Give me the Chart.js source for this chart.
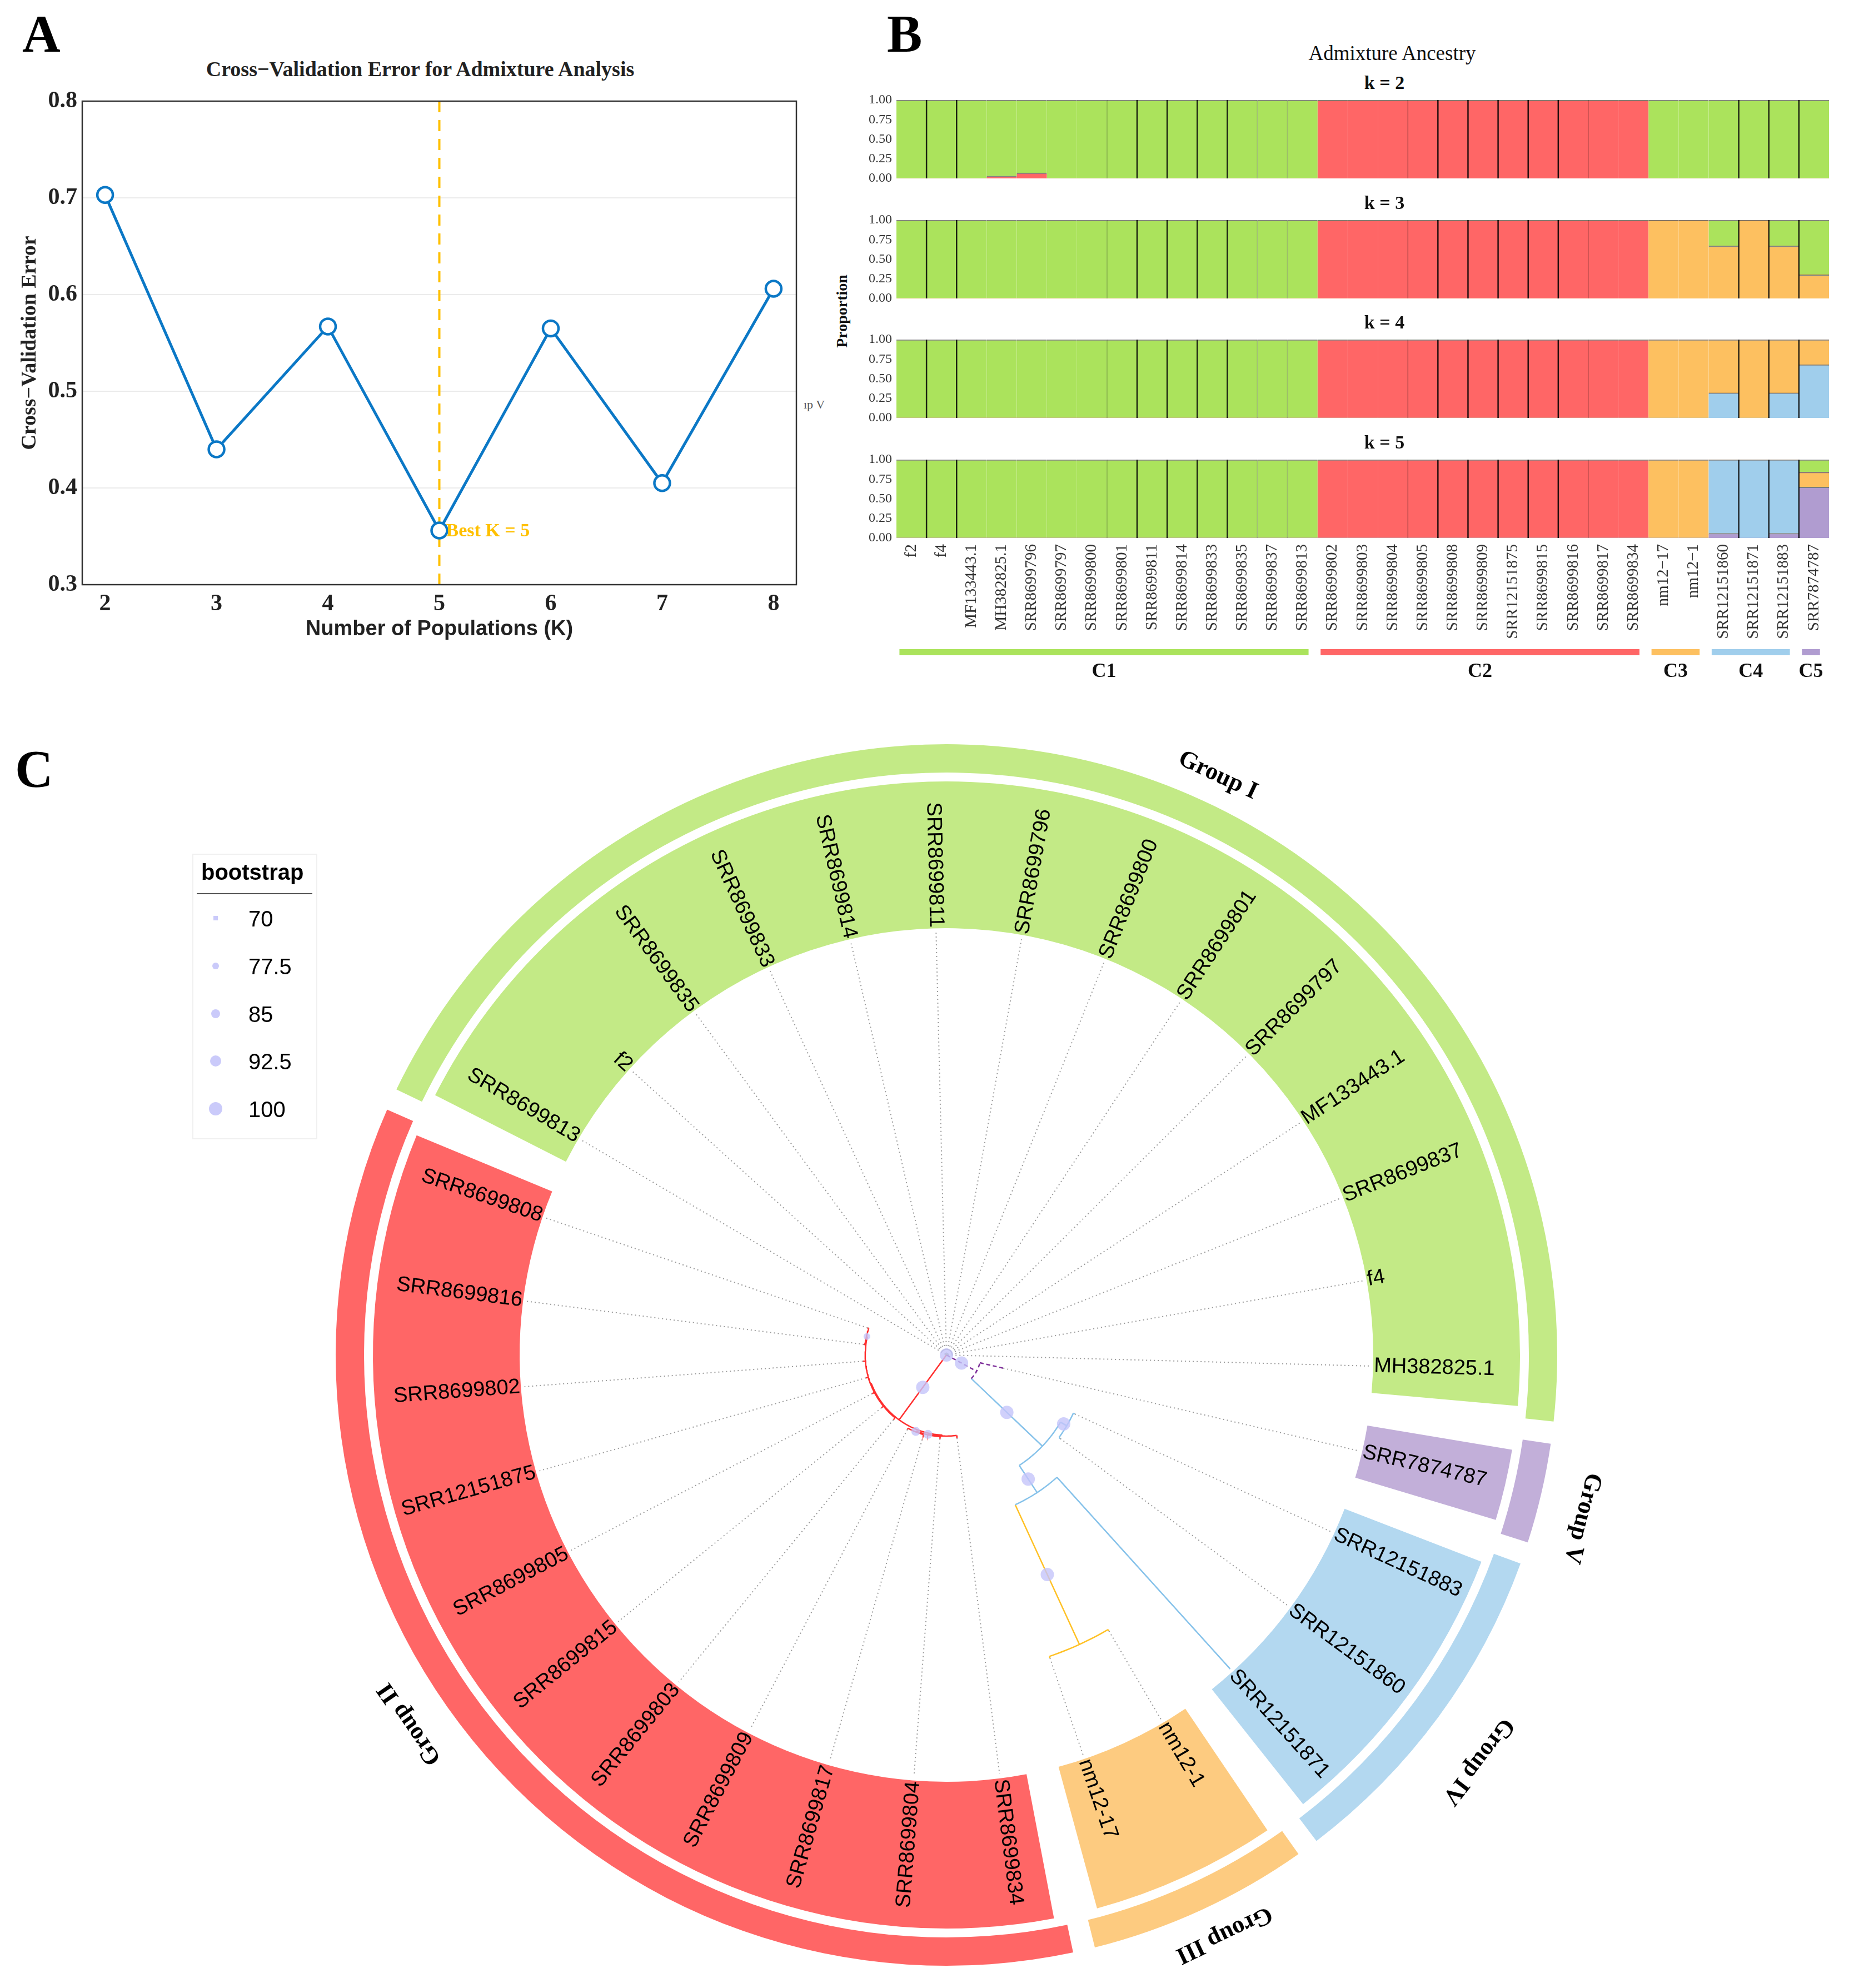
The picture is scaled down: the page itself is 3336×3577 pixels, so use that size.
<!DOCTYPE html>
<html><head><meta charset="utf-8">
<script src="https://cdn.jsdelivr.net/npm/chart.js@4.4.1/dist/chart.umd.min.js"></script>
<style>
html,body{margin:0;padding:0;background:#fff;}
body{width:3336px;height:3577px;position:relative;overflow:hidden;}
canvas{position:absolute;}
.t{position:absolute;white-space:nowrap;}
</style></head><body>
<script>
// ================= DATA =================
// Panel A
const kValues = [2, 3, 4, 5, 6, 7, 8];
const cvError = [0.703, 0.440, 0.567, 0.356, 0.565, 0.405, 0.606];
const cvYTicks = [0.3, 0.4, 0.5, 0.6, 0.7, 0.8];
const bestK = 5;

// Panel B
const samples = ['f2','f4','MF133443.1','MH382825.1','SRR8699796','SRR8699797','SRR8699800','SRR8699801','SRR8699811','SRR8699814','SRR8699833','SRR8699835','SRR8699837','SRR8699813','SRR8699802','SRR8699803','SRR8699804','SRR8699805','SRR8699808','SRR8699809','SRR12151875','SRR8699815','SRR8699816','SRR8699817','SRR8699834','nm12\u221217','nm12\u22121','SRR12151860','SRR12151871','SRR12151883','SRR7874787'];
const propTicks = [0, 0.25, 0.5, 0.75, 1];
// k = 2 (bottom -> top)
const k2Red    = [0,0,0,0.03,0.07,0,0,0,0,0,0,0,0,0, 1,1,1,1,1,1,1,1,1,1,1, 0,0,0,0,0,0];
const k2Green  = [1,1,1,0.97,0.93,1,1,1,1,1,1,1,1,1, 0,0,0,0,0,0,0,0,0,0,0, 1,1,1,1,1,1];
// k = 3
const k3Orange = [0,0,0,0,0,0,0,0,0,0,0,0,0,0, 0,0,0,0,0,0,0,0,0,0,0, 1,1,0.67,1,0.67,0.30];
const k3Red    = [0,0,0,0,0,0,0,0,0,0,0,0,0,0, 1,1,1,1,1,1,1,1,1,1,1, 0,0,0,0,0,0];
const k3Green  = [1,1,1,1,1,1,1,1,1,1,1,1,1,1, 0,0,0,0,0,0,0,0,0,0,0, 0,0,0.33,0,0.33,0.70];
// k = 4
const k4Blue   = [0,0,0,0,0,0,0,0,0,0,0,0,0,0, 0,0,0,0,0,0,0,0,0,0,0, 0,0,0.32,0,0.32,0.68];
const k4Orange = [0,0,0,0,0,0,0,0,0,0,0,0,0,0, 0,0,0,0,0,0,0,0,0,0,0, 1,1,0.68,1,0.68,0.32];
const k4Red    = [0,0,0,0,0,0,0,0,0,0,0,0,0,0, 1,1,1,1,1,1,1,1,1,1,1, 0,0,0,0,0,0];
const k4Green  = [1,1,1,1,1,1,1,1,1,1,1,1,1,1, 0,0,0,0,0,0,0,0,0,0,0, 0,0,0,0,0,0];
// k = 5
const k5Purple = [0,0,0,0,0,0,0,0,0,0,0,0,0,0, 0,0,0,0,0,0,0,0,0,0,0, 0,0,0.06,0,0.06,0.65];
const k5Blue   = [0,0,0,0,0,0,0,0,0,0,0,0,0,0, 0,0,0,0,0,0,0,0,0,0,0, 0,0,0.94,1,0.94,0];
const k5Orange = [0,0,0,0,0,0,0,0,0,0,0,0,0,0, 0,0,0,0,0,0,0,0,0,0,0, 1,1,0,0,0,0.19];
const k5Red    = [0,0,0,0,0,0,0,0,0,0,0,0,0,0, 1,1,1,1,1,1,1,1,1,1,1, 0,0,0,0,0,0];
const k5Green  = [1,1,1,1,1,1,1,1,1,1,1,1,1,1, 0,0,0,0,0,0,0,0,0,0,0, 0,0,0,0,0,0.16];
const clusterNames = ['C1','C2','C3','C4','C5'];
const clusterStart = [0, 14, 25, 27, 30];
const clusterEnd   = [13, 24, 26, 29, 30];
const sepDark  = [1,2,8,9,10,11,18,19,20,21,22,28,29,30];
const sepLight = [7,12,13,17,23];

// Panel C (tips in counter-clockwise order)
const tipNames  = ['MH382825.1','f4','SRR8699837','MF133443.1','SRR8699797','SRR8699801','SRR8699800','SRR8699796','SRR8699811','SRR8699814','SRR8699833','SRR8699835','f2','SRR8699813','SRR8699808','SRR8699816','SRR8699802','SRR12151875','SRR8699805','SRR8699815','SRR8699803','SRR8699809','SRR8699817','SRR8699804','SRR8699834','nm12-17','nm12-1','SRR12151871','SRR12151860','SRR12151883','SRR7874787'];
const tipGroup  = ['I','I','I','I','I','I','I','I','I','I','I','I','I','I','II','II','II','II','II','II','II','II','II','II','II','III','III','IV','IV','IV','V'];
const tipParent = ['root','root','root','root','root','root','root','root','root','root','root','root','root','root','Y2','Y2','Y','Y','Y','Y','Y','N2','N2','N1','X','O','O','B3','B2','B2','P'];
const tipLength = [0.003,0.003,0.003,0.003,0.003,0.003,0.003,0.003,0.003,0.003,0.003,0.003,0.003,0.003,0.003,0.003,0.006,0.006,0.006,0.006,0.006,0.003,0.003,0.005,0.006,0.004,0.004,0.611,0.004,0.004,0.057];
const nodeNames  = ['root','R0','X','N1','N2','Y','Y2','P','B1','B2','B3','O'];
const nodeParent = [null,'root','R0','X','N1','R0','Y','root','P','B1','B1','B3'];
const nodeLength = [0,0.190,0.002,0.002,0.002,0.002,0.002,0.081,0.232,0.017,0.077,0.364];
const nodeBoot   = [100,100,null,85,85,null,77.5,100,100,100,100,100];
const nodeGroup  = ['I','II','II','II','II','II','II','V','IV','IV','IV','III'];
const groupIds    = ['I','II','III','IV','V'];
const groupTitles = ['Group I','Group II','Group III','Group IV','Group V'];
const bootLegend  = [70, 77.5, 85, 92.5, 100];

// ================= STYLE / LAYOUT =================
const SERIF = 'Liberation Serif', SANS = 'Liberation Sans';
const LINE_BLUE = '#0B78C6', GOLD = '#FFC000';
const BAR = {green:'#ABE35C', red:'#FF6666', orange:'#FDC060', blue:'#A0CEEC', purple:'#B09CD0'};
const RING = {I:'#C3EA86', II:'#FF6666', III:'#FDCB80', IV:'#B3D8F0', V:'#C2AFD9'};
const BRANCH = {I:'#9ACD50', II:'#FF2E2E', III:'#FFC125', IV:'#86C2EA', V:'#7E2F9A'};
const GROUP_LABEL_POS = {I:[64.9,1.512], II:[-145.5,1.539], III:[-64.4,1.518], IV:[-37.4,1.581], V:[-14.4,1.551]};
const TIP_START = -1.5;          // angle (deg) of first tip
const U = 768;                   // px per tree unit (label radius = 1)
const RING_OUT = 1099, RING_MID_OUT = 1048, RING_MID_IN = 1032; // px
const C_CX = 1703, C_CY = 2438, C_W = 2800, C_H = 2278;
const B_LEFT = 1480, B_PLOT_LEFT = 1613, B_PLOT_RIGHT = 3291, B_PAD = 40, B_PLOT_H = 141;

function makeCanvas(left, top, w, h) {
  const c = document.createElement('canvas');
  c.width = w; c.height = h;
  c.style.left = left + 'px'; c.style.top = top + 'px';
  c.style.width = w + 'px'; c.style.height = h + 'px';
  document.body.appendChild(c);
  return c;
}
function addText(str, x, baseline, o) {
  const d = document.createElement('div');
  d.className = 't';
  d.textContent = str;
  const asc = o.family === SERIF ? 0.8375 : 0.8465;
  d.style.font = (o.weight || 'normal') + ' ' + o.size + 'px "' + o.family + '"';
  d.style.lineHeight = '1';
  d.style.left = x + 'px';
  d.style.top = (baseline - asc * o.size) + 'px';
  d.style.color = o.color || '#000';
  let tf = '';
  if (o.align === 'center') tf = 'translateX(-50%)';
  else if (o.align === 'right') tf = 'translateX(-100%)';
  if (o.rotate) tf = 'translate(-50%,-50%) rotate(' + o.rotate + 'deg)';
  d.style.transform = tf;
  document.body.appendChild(d);
  return d;
}
const base = {responsive:false, animation:false, devicePixelRatio:1,
  plugins:{legend:{display:false}, tooltip:{enabled:false}}};

// ================= PANEL A =================
addText('A', 40, 94, {family:SERIF, size:95, weight:'bold'});
addText('Cross\u2212Validation Error for Admixture Analysis', 756, 137, {family:SERIF, size:38, weight:'bold', align:'center', color:'#222'});
addText('\u0131p V', 1446, 735, {family:SERIF, size:22, color:'#555'});

const frameA = {id:'frameA', afterDraw(chart){
  const {ctx, chartArea:a} = chart;
  ctx.save(); ctx.strokeStyle = '#333'; ctx.lineWidth = 2.5;
  ctx.strokeRect(a.left, a.top, a.right - a.left, a.bottom - a.top); ctx.restore();
}};
const bestKLine = {id:'bestK',
  beforeDatasetsDraw(chart){
    const {ctx, chartArea:a, scales:{x}} = chart;
    const px = x.getPixelForValue(bestK);
    ctx.save(); ctx.strokeStyle = GOLD; ctx.lineWidth = 4; ctx.setLineDash([20, 14]);
    ctx.beginPath(); ctx.moveTo(px, a.top); ctx.lineTo(px, a.bottom); ctx.stroke(); ctx.restore();
  },
  afterDatasetsDraw(chart){
    const {ctx, scales:{x, y}} = chart;
    const px = x.getPixelForValue(bestK);
    const py = y.getPixelForValue(cvError[kValues.indexOf(bestK)]);
    ctx.save(); ctx.fillStyle = GOLD; ctx.font = 'bold 34px "' + SERIF + '"';
    ctx.textAlign = 'left'; ctx.textBaseline = 'middle';
    ctx.fillText('Best K = ' + bestK, px + 12, py + 2); ctx.restore();
  }
};
new Chart(makeCanvas(0, 0, 1480, 1180), {
  type:'line',
  data:{datasets:[{
    data: kValues.map((k, i) => ({x:k, y:cvError[i]})),
    borderColor:LINE_BLUE, borderWidth:5, tension:0, fill:false,
    pointRadius:14, pointBorderWidth:4.5, pointBackgroundColor:'#fff', pointBorderColor:LINE_BLUE
  }]},
  options:Object.assign({}, base, {
    layout:{padding:{top:182, right:47, left:0, bottom:0}},
    scales:{
      x:{type:'linear', min:1.795, max:8.205,
        afterBuildTicks:s => { s.ticks = kValues.map(v => ({value:v})); },
        afterFit:s => { s.height = 128; },
        ticks:{font:{family:SERIF, size:42, weight:'bold'}, color:'#222', padding:10, callback:v => String(v)},
        grid:{display:false, drawTicks:false}, border:{display:false},
        title:{display:true, text:'Number of Populations (K)', font:{family:SANS, size:38, weight:'bold'}, color:'#222', padding:{top:0, bottom:25}}},
      y:{type:'linear', min:0.3, max:0.8,
        afterBuildTicks:s => { s.ticks = cvYTicks.map(v => ({value:v})); },
        afterFit:s => { s.width = 148; },
        ticks:{font:{family:SERIF, size:42, weight:'bold'}, color:'#222', padding:9, callback:v => v.toFixed(1)},
        grid:{color:'#EBEBEB', lineWidth:2, drawTicks:false}, border:{display:false},
        title:{display:true, text:'Cross\u2212Validation Error', font:{family:SERIF, size:38, weight:'bold'}, color:'#222', padding:{top:31, bottom:0}}}
    }
  }),
  plugins:[frameA, bestKLine]
});

// ================= PANEL B =================
addText('B', 1596, 94, {family:SERIF, size:95, weight:'bold'});
addText('Admixture Ancestry', 2505, 108, {family:SERIF, size:37, align:'center', color:'#111'});
addText('Proportion', 1515, 583, {family:SERIF, size:28, weight:'bold', rotate:-90, color:'#111'});

const sepPlugin = {id:'sep', afterDatasetsDraw(chart){
  const {ctx, chartArea:a, scales:{x}} = chart;
  const draw = (list, color, w) => {
    ctx.strokeStyle = color; ctx.lineWidth = w;
    list.forEach(i => {
      const px = (x.getPixelForValue(i - 1) + x.getPixelForValue(i)) / 2;
      ctx.beginPath(); ctx.moveTo(px, a.top); ctx.lineTo(px, a.bottom); ctx.stroke();
    });
  };
  ctx.save(); draw(sepLight, 'rgba(0,0,0,0.18)', 2); draw(sepDark, 'rgba(0,0,0,0.85)', 2.5); ctx.restore();
}};
const clusterPlugin = {id:'clusters', afterDraw(chart){
  const {ctx, chartArea:a, scales:{x}} = chart;
  const bw = x.getPixelForValue(1) - x.getPixelForValue(0);
  ctx.save();
  clusterNames.forEach((n, g) => {
    const x0 = x.getPixelForValue(clusterStart[g]) - bw / 2 + 0.1 * bw;
    const x1 = x.getPixelForValue(clusterEnd[g]) + bw / 2 - 0.3 * bw;
    ctx.fillStyle = [BAR.green, BAR.red, BAR.orange, BAR.blue, BAR.purple][g];
    ctx.fillRect(x0, a.bottom + 200, x1 - x0, 11);
    ctx.fillStyle = '#111'; ctx.font = 'bold 36px "' + SERIF + '"';
    ctx.textAlign = 'center'; ctx.textBaseline = 'alphabetic';
    ctx.fillText(n, (x0 + x1) / 2, a.bottom + 250);
  });
  ctx.restore();
}};
function makeK(k, comps, plotTop, withLabels) {
  const bottomH = withLabels ? 273 : B_PAD;
  const canvasW = B_PLOT_RIGHT + B_PAD - B_LEFT;
  addText('k = ' + k, 2491, plotTop - 20, {family:SERIF, size:34, weight:'bold', align:'center', color:'#111'});
  new Chart(makeCanvas(B_LEFT, plotTop - B_PAD, canvasW, B_PAD + B_PLOT_H + bottomH), {
    type:'bar',
    data:{labels:samples, datasets:comps.map(c => ({
      data:c[0], backgroundColor:c[1], borderColor:'rgba(30,30,30,0.55)',
      borderWidth:{top:2, right:0, bottom:0, left:0}, borderSkipped:false,
      categoryPercentage:1, barPercentage:1
    }))},
    options:Object.assign({}, base, {
      layout:{padding:{top:B_PAD, right:B_PAD, left:0, bottom:0}},
      scales:{
        x:{stacked:true, afterFit:s => { s.height = bottomH; },
          ticks:{display:withLabels, autoSkip:false, minRotation:90, maxRotation:90, padding:11,
            font:{family:SERIF, size:29}, color:'#333'},
          grid:{display:false, drawTicks:false}, border:{display:false}},
        y:{stacked:true, min:0, max:1, afterFit:s => { s.width = B_PLOT_LEFT - B_LEFT; },
          afterBuildTicks:s => { s.ticks = propTicks.map(v => ({value:v})); },
          ticks:{font:{family:SERIF, size:24}, color:'#333', padding:8, autoSkip:false, callback:v => v.toFixed(2)},
          grid:{display:false, drawTicks:false}, border:{display:false}}
      }
    }),
    plugins: withLabels ? [sepPlugin, clusterPlugin] : [sepPlugin]
  });
}
makeK(2, [[k2Red, BAR.red], [k2Green, BAR.green]], 180, false);
makeK(3, [[k3Orange, BAR.orange], [k3Red, BAR.red], [k3Green, BAR.green]], 396, false);
makeK(4, [[k4Blue, BAR.blue], [k4Orange, BAR.orange], [k4Red, BAR.red], [k4Green, BAR.green]], 611, false);
makeK(5, [[k5Purple, BAR.purple], [k5Blue, BAR.blue], [k5Orange, BAR.orange], [k5Red, BAR.red], [k5Green, BAR.green]], 827, true);

// ================= PANEL C =================
addText('C', 27, 1417, {family:SERIF, size:95, weight:'bold'});

const N = tipNames.length, STEP = 360 / N;
const tipAngle = j => TIP_START + j * STEP;
const lastI = tipGroup.lastIndexOf('I');
// clockwise runs of groups starting after group I's last tip
const runs = [];
for (let s = 0; s < N; s++) {
  const j = ((lastI - s) % N + N) % N;
  const g = tipGroup[j];
  if (runs.length && runs[runs.length - 1].g === g) runs[runs.length - 1].n++;
  else runs.push({g, n:1});
}
const CLEAR = 'rgba(0,0,0,0)';
function ringData(shrink, colorFn) {
  const data = [], colors = [];
  runs.forEach(r => { data.push(shrink, r.n - 2 * shrink, shrink); colors.push(CLEAR, colorFn(r.g), CLEAR); });
  return {data, backgroundColor:colors, borderWidth:0, hoverOffset:0};
}
const outerDs = Object.assign(ringData(0.09, g => RING[g]), {weight:RING_OUT - RING_MID_OUT});
const spacerDs = Object.assign(ringData(0.09, () => CLEAR), {weight:RING_MID_OUT - RING_MID_IN});
const innerDs = Object.assign(ringData(0.19, g => RING[g]), {weight:RING_MID_IN - U});
new Chart(makeCanvas(C_CX - C_W / 2, C_CY - C_H / 2, C_W, C_H), {
  type:'doughnut',
  data:{labels:runs.flatMap(r => ['', r.g, '']), datasets:[outerDs, spacerDs, innerDs]},
  options:Object.assign({}, base, {
    layout:{padding:0}, circumference:360,
    rotation:90 - tipAngle(lastI + 0.5),
    radius:RING_OUT, cutout:(U / RING_OUT * 100) + '%'
  })
});

// tree structure
const parentOf = {}, lenOf = {}, groupOf = {}, children = {};
nodeNames.forEach((n, i) => { parentOf[n] = nodeParent[i]; lenOf[n] = nodeLength[i]; groupOf[n] = nodeGroup[i]; children[n] = []; });
tipNames.forEach((n, j) => { parentOf[n] = tipParent[j]; lenOf[n] = tipLength[j]; groupOf[n] = tipGroup[j]; });
Object.keys(parentOf).forEach(n => { if (parentOf[n]) children[parentOf[n]].push(n); });
const depth = {}, ang = {};
function depthOf(n) { if (depth[n] !== undefined) return depth[n]; return depth[n] = parentOf[n] ? depthOf(parentOf[n]) + lenOf[n] : 0; }
function angOf(n) {
  if (ang[n] !== undefined) return ang[n];
  const j = tipNames.indexOf(n);
  if (j >= 0) return ang[n] = tipAngle(j);
  const c = children[n];
  return ang[n] = c.reduce((s, m) => s + angOf(m), 0) / c.length;
}
Object.keys(parentOf).forEach(n => { depthOf(n); angOf(n); });
const pt = (r, a) => ({x:r * Math.cos(a * Math.PI / 180), y:r * Math.sin(a * Math.PI / 180)});
const GAP = {x:0, y:null};
const branchPts = {I:[], II:[], III:[], IV:[], V:[]};
Object.keys(parentOf).forEach(n => {
  if (!parentOf[n]) return;
  branchPts[groupOf[n]].push(pt(depth[parentOf[n]], ang[n]), pt(depth[n], ang[n]), GAP);
});
nodeNames.forEach(n => {
  if (!parentOf[n]) return;
  const cs = children[n].map(m => ang[m]);
  const a0 = Math.min(...cs), a1 = Math.max(...cs);
  const arr = branchPts[groupOf[n]];
  const steps = Math.max(2, Math.ceil((a1 - a0) / 1));
  for (let s = 0; s <= steps; s++) arr.push(pt(depth[n], a0 + (a1 - a0) * s / steps));
  arr.push(GAP);
});
const dotPts = [];
tipNames.forEach(n => { if (depth[n] < 0.999) dotPts.push(pt(depth[n], ang[n]), pt(1, ang[n]), GAP); });
const bootPts = [], bootR = [];
const bootSize = v => 4 + (v - 70) / 30 * 8;
nodeNames.forEach((n, i) => {
  if (nodeBoot[i] == null) return;
  const r = parentOf[n] ? depth[parentOf[n]] + lenOf[n] / 2 : 0;
  bootPts.push(pt(r, ang[n])); bootR.push(bootSize(nodeBoot[i]));
});
const lineDs = (data, color, dash, w) => ({type:'scatter', data, showLine:true, spanGaps:false,
  borderColor:color, borderWidth:w, borderDash:dash, pointRadius:0, fill:false});
const treeLabels = {id:'treeLabels', afterDraw(chart){
  const {ctx, scales:{x, y}} = chart;
  const cx = x.getPixelForValue(0), cy = y.getPixelForValue(0), unit = x.getPixelForValue(1) - cx;
  ctx.save();
  ctx.fillStyle = '#000'; ctx.font = '38px "' + SANS + '"'; ctx.textBaseline = 'middle';
  tipNames.forEach((n, j) => {
    let a = ang[n]; while (a > 180) a -= 360; while (a <= -180) a += 360;
    const r = unit + 8, rad = a * Math.PI / 180;
    ctx.save(); ctx.translate(cx + r * Math.cos(rad), cy - r * Math.sin(rad));
    if (a > 90 || a < -90) { ctx.rotate(-(a + 180) * Math.PI / 180); ctx.textAlign = 'right'; }
    else { ctx.rotate(-a * Math.PI / 180); ctx.textAlign = 'left'; }
    ctx.fillText(n, 0, 0); ctx.restore();
  });
  ctx.font = 'bold 44px "' + SERIF + '"'; ctx.textAlign = 'center';
  groupIds.forEach((g, i) => {
    const [a, rr] = GROUP_LABEL_POS[g]; const rad = a * Math.PI / 180, r = rr * unit;
    ctx.save(); ctx.translate(cx + r * Math.cos(rad), cy - r * Math.sin(rad));
    ctx.rotate((90 - a) * Math.PI / 180); ctx.fillText(groupTitles[i], 0, 0); ctx.restore();
  });
  ctx.restore();
}};
new Chart(makeCanvas(C_CX - C_W / 2, C_CY - C_H / 2, C_W, C_H), {
  type:'scatter',
  data:{datasets:[
    {data:bootPts, pointRadius:bootR, pointBackgroundColor:'rgba(196,196,250,0.8)', pointBorderWidth:0, showLine:false},
    lineDs(branchPts.V, BRANCH.V, [7, 5], 2.5),
    lineDs(branchPts.II, BRANCH.II, [], 2.5),
    lineDs(branchPts.IV, BRANCH.IV, [], 2.5),
    lineDs(branchPts.III, BRANCH.III, [], 2.5),
    lineDs(branchPts.I, BRANCH.I, [], 2),
    lineDs(dotPts, '#9a9a9a', [2, 5], 2)
  ]},
  options:Object.assign({}, base, {
    layout:{padding:0},
    scales:{
      x:{type:'linear', display:false, min:-C_W / 2 / U, max:C_W / 2 / U},
      y:{type:'linear', display:false, min:-C_H / 2 / U, max:C_H / 2 / U}
    }
  }),
  plugins:[treeLabels]
});

// bootstrap legend (HTML)
(function(){
  const box = document.createElement('div');
  Object.assign(box.style, {position:'absolute', left:'346px', top:'1536px', width:'225px', height:'514px', border:'2px solid #f0f0f0', boxSizing:'border-box'});
  document.body.appendChild(box);
  addText('bootstrap', 362, 1583, {family:SANS, size:40, weight:'bold'});
  const ul = document.createElement('div');
  Object.assign(ul.style, {position:'absolute', left:'354px', top:'1607px', width:'208px', height:'2px', background:'#555'});
  document.body.appendChild(ul);
  bootLegend.forEach((v, i) => {
    const baseY = 1667 + i * 85.75;
    addText(String(v), 447, baseY, {family:SANS, size:40});
    const r = bootSize(v);
    const m = document.createElement('div');
    Object.assign(m.style, {position:'absolute', left:(388 - r) + 'px', top:(baseY - 15 - r) + 'px', width:(2 * r) + 'px', height:(2 * r) + 'px',
      background:'rgba(196,196,250,0.9)', borderRadius: v <= 70 ? '0' : '50%'});
    document.body.appendChild(m);
  });
})();
</script>
</body></html>
